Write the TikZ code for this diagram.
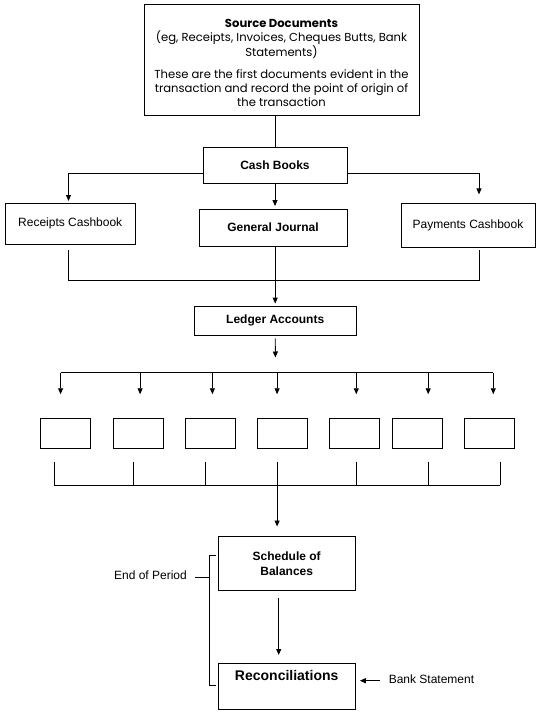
\documentclass[tikz,border=0pt]{standalone}
\usepackage{fontspec}
\setmainfont{Liberation Sans}
\newfontfamily\srcfont{Poppins}
\usetikzlibrary{arrows.meta,calc}
\begin{document}
\begin{tikzpicture}[x=1pt,y=-1pt,line width=0.9pt,
  box/.style={draw,line width=0.9pt,inner sep=0pt,font=\fontsize{12}{14}\selectfont},
  bbox/.style={box,font=\bfseries\fontsize{12}{15}\selectfont},
  lbl/.style={inner sep=0pt,font=\fontsize{12}{14}\selectfont},
  arr/.style={-{Triangle[length=6pt,width=5pt]}}]
\useasboundingbox[fill=white] (0,0) rectangle (540,715);
% boxes
\node[box,minimum width=275pt,minimum height=111pt,align=center,
  font=\srcfont\fontsize{11.6}{13.8}\selectfont] (src) at (281.5,59.5)
  {\rule{0pt}{15pt}\textbf{Source Documents}\\(eg, Receipts, Invoices, Cheques Butts, Bank\\Statements)\\[9pt]These are the first documents evident in the\\transaction and record the point of origin of\\the transaction};
\node[bbox,minimum width=144pt,minimum height=36pt] (cash) at (275,165) {Cash Books};
\node[box,minimum width=129.5pt,minimum height=40.3pt] (rec) at (70.2,223.8) {\raisebox{2.5pt}{Receipts Cashbook}};
\node[bbox,minimum width=148pt,minimum height=37pt] (gj) at (273,227.5) {General Journal};
\node[box,minimum width=134pt,minimum height=43.3pt] (pay) at (468,225.3) {\raisebox{2.5pt}{Payments Cashbook}};
\node[bbox,minimum width=161.5pt,minimum height=29pt] (led) at (275.2,320.5) {Ledger Accounts};
\foreach \x [count=\i] in {65.8,138.2,210.2,282.1,354,417,489}
  \node[box,minimum width=50pt,minimum height=30pt] (b\i) at (\x,433.1) {};
\node[bbox,minimum width=136.7pt,minimum height=54.7pt,align=center] (sch) at (286.7,563.3) {Schedule of\\Balances};
\node[box,minimum width=136.7pt,minimum height=46pt,align=center,
  font=\bfseries\fontsize{14}{16}\selectfont] (rcn) at (286.7,686.3) {Reconciliations\\\strut};
\node[lbl,anchor=east] (eop) at (187.3,575) {End of Period};
\node[lbl,anchor=west] (bank) at (388.3,679) {Bank Statement};
% source to cash books
\draw (cash.north) -- (cash.north |- src.south);
% cash books branches
\coordinate (cL) at (68.5,173.5);
\coordinate (cR) at (479,173.5);
\coordinate (recIn) at (68.5,201);
\coordinate (payIn) at (479,194.4);
\draw[arr] (cash.west |- cL) -- (cL) -- (recIn);
\draw[arr] (cash.east |- cR) -- (cR) -- (payIn);
\draw[arr,shorten >=2.5pt] (cash.south) -- (cash.south |- gj.north);
% merge to ledger
\coordinate (mL) at (68.5,280);
\coordinate (mR) at (479,280);
\draw[shorten <=6pt,shorten >=3pt] (mL |- rec.south) -- (mL) -- (mR) -- (mR |- pay.south);
\draw[arr,shorten >=2pt] (led.north |- gj.south) -- (led.north);
% ledger to accounts
\coordinate (la) at (275.4,357.5);
\draw[arr,shorten <=3pt] (led.south) -- (la);
\coordinate (hL) at (60.6,372.7);
\coordinate (hR) at (493.3,372.7);
\draw (hL) -- (hR);
\foreach \x [count=\i] in {60.6,140.1,212.4,277.1,356.3,428.2,493.3}{
  \coordinate (t\i) at (\x,372.7);
  \draw[arr,shorten >=23.4pt] (t\i) -- (t\i |- b\i.north);
}
\foreach \x [count=\i] in {54.4,133.2,205.2,277.1,356.3,428.2,500.2}{
  \coordinate (u\i) at (\x,485.2);
  \draw[shorten <=13.4pt] (u\i |- b\i.south) -- (u\i);
}
\draw (u1) -- (u7);
\draw[arr,shorten >=9pt] (u4) -- (u4 |- sch.north);
% schedule to reconciliations
\coordinate (sA) at (278.7,598.3);
\coordinate (sB) at (278.7,655);
\draw[arr] (sA) -- (sB);
% bracket
\coordinate (brT) at (209.3,555);
\coordinate (brB) at (209.3,685);
\coordinate (brM) at (209.3,577.3);
\draw ($(brT -| sch.west)+(-1.6,0)$) -- (brT) -- (brB) -- ($(brB -| sch.west)+(-1.6,0)$);
\draw (brM) -- ++(-14.3,0);
% bank statement
\draw[arr,shorten <=8.3pt,shorten >=4.3pt] (bank.west |- 0,680.7) -- (rcn.east |- 0,680.7);
\end{tikzpicture}
\end{document}
